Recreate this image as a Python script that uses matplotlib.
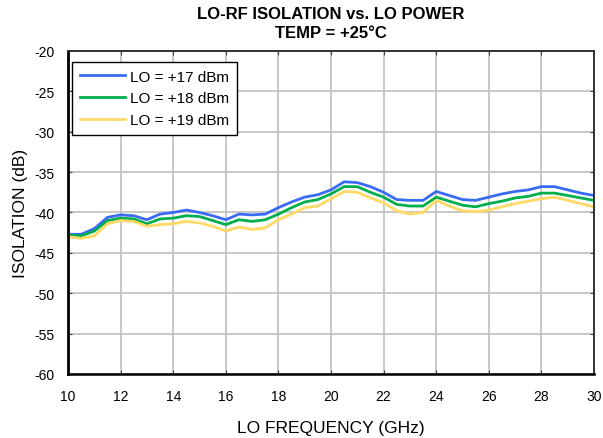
import numpy as np
import matplotlib.pyplot as plt

plt.rcParams['font.family'] = ['Liberation Sans', 'DejaVu Sans']
plt.rcParams['axes.unicode_minus'] = False

# LO frequency (GHz), 0.5 GHz steps
freq = np.arange(10, 30.01, 0.5)

# isolation (dB)
iso_17 = [-42.7, -42.7, -42.0, -40.6, -40.3, -40.4, -40.9, -40.2, -40.0, -39.7,
          -40.0, -40.4, -40.9, -40.2, -40.3, -40.2, -39.4, -38.7, -38.1, -37.8,
          -37.2, -36.2, -36.3, -36.8, -37.5, -38.4, -38.5, -38.5, -37.4, -37.9,
          -38.4, -38.5, -38.1, -37.7, -37.4, -37.2, -36.8, -36.8, -37.2, -37.6,
          -37.9]
iso_18 = [-42.8, -42.9, -42.3, -41.0, -40.7, -40.8, -41.4, -40.8, -40.7, -40.4,
          -40.5, -41.0, -41.5, -40.9, -41.1, -40.9, -40.2, -39.4, -38.7, -38.4,
          -37.7, -36.8, -36.8, -37.5, -38.1, -39.0, -39.2, -39.2, -38.1, -38.6,
          -39.1, -39.3, -38.9, -38.6, -38.2, -38.0, -37.6, -37.6, -37.9, -38.2,
          -38.5]
iso_19 = [-43.0, -43.2, -42.9, -41.4, -41.0, -41.1, -41.7, -41.5, -41.4, -41.1,
          -41.3, -41.7, -42.3, -41.8, -42.1, -41.9, -40.9, -40.2, -39.4, -39.2,
          -38.3, -37.4, -37.5, -38.2, -38.8, -39.8, -40.2, -40.0, -38.5, -39.2,
          -39.8, -39.9, -39.7, -39.3, -38.9, -38.6, -38.3, -38.1, -38.5, -38.9,
          -39.3]

labels = ['LO = +17 dBm', 'LO = +18 dBm', 'LO = +19 dBm']
colors = ['#3A6BF5', '#00AE4D', '#FFD966']

fig = plt.figure(figsize=(6.03, 4.39), dpi=100)
ax = fig.add_axes([0.1128, 0.1458, 0.8723, 0.7358])

for y, lab, c in zip([iso_17, iso_18, iso_19], labels, colors):
    ax.plot(freq, y, color=c, lw=2.0, label=lab)

ax.set_xlim(10, 30)
ax.set_ylim(-60, -20)
ax.set_xticks(np.arange(10, 31, 2))
ax.set_yticks(np.arange(-60, -19, 5))
ax.grid(True, color='#c4c4c4', lw=1.3)
ax.set_axisbelow(True)
ax.tick_params(direction='in', length=3, labelsize=10, top=True, right=True,
               color='#404040')
ax.tick_params(axis='x', pad=11)
ax.tick_params(axis='y', pad=10)
for s in ax.spines.values():
    s.set_color('#333333')
    s.set_linewidth(1.4)
ax.spines['left'].set_color('black')
ax.spines['left'].set_linewidth(2.0)
ax.spines['bottom'].set_color('black')
ax.spines['bottom'].set_linewidth(1.8)

ax.set_xlabel('LO FREQUENCY (GHz)', fontsize=12.5, labelpad=12)
ax.set_ylabel('ISOLATION (dB)', fontsize=12.5, labelpad=4)
ax.set_title('LO-RF ISOLATION vs. LO POWER\nTEMP = +25°C', fontsize=12,
             fontweight='bold', pad=10, linespacing=1.3)

leg = ax.legend(loc='upper left', bbox_to_anchor=(0.0076, 0.966),
                borderaxespad=0, fontsize=11, fancybox=False, framealpha=1,
                edgecolor='black', handlelength=3.0, handletextpad=0.3,
                labelspacing=0.5, borderpad=0.5)
leg.get_frame().set_linewidth(1.0)

fig.savefig('out.png', dpi=100)
